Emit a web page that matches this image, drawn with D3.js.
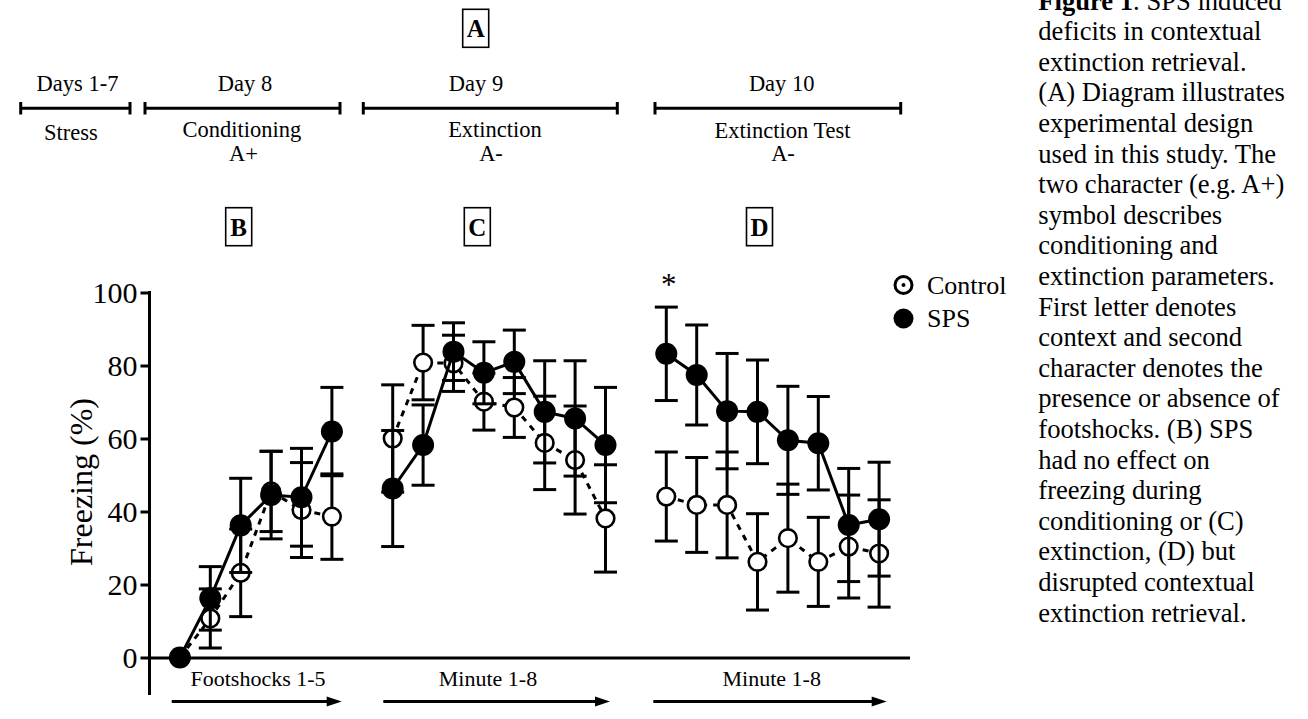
<!DOCTYPE html>
<html><head><meta charset="utf-8">
<script src="https://cdn.jsdelivr.net/npm/d3@7"></script>
<style>
body{margin:0;background:#fff}
svg{display:block}
text{font-family:"Liberation Serif","Times New Roman",serif;fill:#000}
</style>
</head><body>
<svg id="chart" width="1308" height="719"></svg>
<script>
// ---------------- data ----------------
const yTicks = [0, 20, 40, 60, 80, 100];
const seriesNames = ["Control", "SPS"];

// Panel B: conditioning (baseline + footshocks 1-5)
const condTrials = ["0", "1", "2", "3", "4", "5"];
const condControl    = [0, 10.7, 23.2, 45.5, 40.4, 38.6];
const condControlSem = [0, 8.1, 12.0, 11.0, 13.0, 11.7];
const condSPS        = [0, 16.2, 36.2, 44.5, 43.9, 61.9];
const condSPSSem     = [0, 8.7, 12.9, 12.0, 13.4, 12.1];

// Panel C: extinction minutes 1-8
const extMinutes = ["1", "2", "3", "4", "5", "6", "7", "8"];
const extControl    = [60.0, 80.8, 80.6, 70.1, 68.5, 58.8, 54.1, 38.1];
const extControlSem = [14.7, 10.2, 7.7, 7.8, 8.2, 12.8, 14.8, 14.7];
const extSPS        = [46.3, 58.2, 83.8, 78.0, 81.0, 67.3, 65.5, 58.2];
const extSPSSem     = [15.9, 11.0, 7.9, 8.5, 8.7, 14.0, 15.8, 15.8];

// Panel D: extinction test minutes 1-8
const testMinutes = ["1", "2", "3", "4", "5", "6", "7", "8"];
const testControl    = [44.1, 41.8, 41.8, 26.2, 32.7, 26.2, 30.4, 28.5];
const testControlSem = [12.2, 13.0, 14.5, 13.2, 14.8, 12.2, 14.1, 14.7];
const testSPS        = [83.2, 77.4, 67.5, 67.3, 59.5, 58.7, 36.3, 37.9];
const testSPSSem     = [12.8, 13.7, 15.8, 14.2, 14.8, 12.8, 15.5, 15.6];

const panelLetters = ["B", "C", "D"];
const panelAxisLabels = ["Footshocks 1-5", "Minute 1-8", "Minute 1-8"];
const timelineDays = ["Days 1-7", "Day 8", "Day 9", "Day 10"];
const timelinePhases = ["Stress", "Conditioning", "Extinction", "Extinction Test"];
const timelineCodes = ["", "A+", "A-", "A-"];
const yLabel = "Freezing (%)";
const captionLines = [
  "SPS induced", "deficits in contextual", "extinction retrieval.",
  "(A) Diagram illustrates", "experimental design", "used in this study. The",
  "two character (e.g. A+)", "symbol describes", "conditioning and",
  "extinction parameters.", "First letter denotes", "context and second",
  "character denotes the", "presence or absence of", "footshocks. (B) SPS",
  "had no effect on", "freezing during", "conditioning or (C)",
  "extinction, (D) but", "disrupted contextual", "extinction retrieval."
];

// ---------------- layout ----------------
const svg = d3.select("#chart");
const x = d3.scaleLinear().domain([-1, 24]).range([149.5, 909.5]);
const y = d3.scaleLinear().domain([0, 100]).range([657.5, 292.5]);
const panelStart = [0, 7, 16]; // slot offsets of each panel along x

const panels = [
  {cats: condTrials, c: condControl, cs: condControlSem, s: condSPS, ss: condSPSSem},
  {cats: extMinutes, c: extControl, cs: extControlSem, s: extSPS, ss: extSPSSem},
  {cats: testMinutes, c: testControl, cs: testControlSem, s: testSPS, ss: testSPSSem}
];

function pts(p, pi, vals, sems) {
  return p.cats.map((cat, i) => ({slot: panelStart[pi] + i, v: vals[i], e: sems[i]}));
}

// ---------------- axes ----------------
const yAxis = svg.append("g").attr("transform", `translate(${x(-1)},0)`)
  .call(d3.axisLeft(y).tickValues(yTicks).tickSize(9).tickSizeOuter(0).tickPadding(3));
yAxis.select(".domain").remove();
yAxis.selectAll(".tick line").attr("stroke", "#000").attr("stroke-width", 3);
yAxis.selectAll(".tick text").style("font-size", "30px")
  .style("font-family", '"Liberation Serif","Times New Roman",serif').attr("fill", "#000");
svg.append("line").attr("x1", x(-1)).attr("x2", x(-1))
  .attr("y1", y(100) - 1.5).attr("y2", 695)
  .attr("stroke", "#000").attr("stroke-width", 3);

const xAxis = svg.append("g").attr("transform", `translate(0,${y(0)})`)
  .call(d3.axisBottom(x).tickValues([]).tickSizeOuter(0));
xAxis.select(".domain").attr("stroke", "#000").attr("stroke-width", 3);

svg.append("text").attr("transform", `translate(92,${(y(0) + y(100)) / 2 + 7}) rotate(-90)`)
  .attr("text-anchor", "middle").style("font-size", "32px").text(yLabel);

// ---------------- series ----------------
const capW = 11.5;
function drawErr(data, cls) {
  const g = svg.append("g").attr("class", cls).attr("stroke", "#000").attr("stroke-width", 3);
  data.filter(d => d.e > 0).forEach(d => {
    const cx = x(d.slot);
    g.append("line").attr("x1", cx).attr("x2", cx).attr("y1", y(d.v + d.e)).attr("y2", y(d.v - d.e));
    g.append("line").attr("x1", cx - capW).attr("x2", cx + capW).attr("y1", y(d.v + d.e)).attr("y2", y(d.v + d.e));
    g.append("line").attr("x1", cx - capW).attr("x2", cx + capW).attr("y1", y(d.v - d.e)).attr("y2", y(d.v - d.e));
  });
}
const line = d3.line().x(d => x(d.slot)).y(d => y(d.v));

const ctrlData = panels.map((p, pi) => pts(p, pi, p.c, p.cs));
const spsData = panels.map((p, pi) => pts(p, pi, p.s, p.ss));

ctrlData.forEach(d => drawErr(d, "ctrl-err"));
ctrlData.forEach(d => svg.append("path").datum(d).attr("d", line)
  .attr("fill", "none").attr("stroke", "#000").attr("stroke-width", 3).attr("stroke-dasharray", "6,6"));
ctrlData.forEach(d => svg.append("g").selectAll("circle").data(d).join("circle")
  .attr("cx", p => x(p.slot)).attr("cy", p => y(p.v)).attr("r", 8.8)
  .attr("fill", "#fff").attr("stroke", "#000").attr("stroke-width", 2.6));

spsData.forEach(d => drawErr(d, "sps-err"));
spsData.forEach(d => svg.append("path").datum(d).attr("d", line)
  .attr("fill", "none").attr("stroke", "#000").attr("stroke-width", 3));
spsData.forEach(d => svg.append("g").selectAll("circle").data(d).join("circle")
  .attr("cx", p => x(p.slot)).attr("cy", p => y(p.v)).attr("r", 11).attr("fill", "#000"));

// significance asterisk over first test minute
svg.append("text").attr("x", x(panelStart[2]) + 2.5).attr("y", 295)
  .attr("text-anchor", "middle").style("font-size", "31px").text("*");

// ---------------- legend ----------------
const leg = svg.append("g");
leg.append("circle").attr("cx", 903.5).attr("cy", 285).attr("r", 8.5)
  .attr("fill", "#fff").attr("stroke", "#000").attr("stroke-width", 3);
leg.append("circle").attr("cx", 903.5).attr("cy", 285).attr("r", 2).attr("fill", "#000");
leg.append("circle").attr("cx", 903.5).attr("cy", 318.5).attr("r", 10).attr("fill", "#000");
leg.append("text").attr("x", 927).attr("y", 293.5).style("font-size", "26px").text(seriesNames[0]);
leg.append("text").attr("x", 927).attr("y", 327).style("font-size", "26px").text(seriesNames[1]);

// ---------------- panel bottom labels & arrows ----------------
const arrowSpans = [[171.7, 341.7], [383.3, 610], [653.3, 886.7]];
const labelCenters = [258, 488, 771.7];
arrowSpans.forEach((s, i) => {
  svg.append("line").attr("x1", s[0]).attr("x2", s[1] - 12).attr("y1", 701.5).attr("y2", 701.5)
    .attr("stroke", "#000").attr("stroke-width", 3);
  svg.append("path").attr("d", `M${s[1]},701.5 L${s[1] - 15},696.5 L${s[1] - 15},706.5 Z`).attr("fill", "#000");
  svg.append("text").attr("x", labelCenters[i]).attr("y", 686).attr("text-anchor", "middle")
    .style("font-size", "22px").text(panelAxisLabels[i]);
});

// ---------------- letter boxes ----------------
const boxes = [
  {t: "A", x: 462.7, y: 9.3},
  {t: panelLetters[0], x: 225.7, y: 207.7},
  {t: panelLetters[1], x: 464.3, y: 207.7},
  {t: panelLetters[2], x: 746.5, y: 207.7}
];
boxes.forEach(b => {
  svg.append("rect").attr("x", b.x).attr("y", b.y).attr("width", 26).attr("height", 38)
    .attr("fill", "none").attr("stroke", "#000").attr("stroke-width", 1.6);
  svg.append("text").attr("x", b.x + 13).attr("y", b.y + 28).attr("text-anchor", "middle")
    .style("font-size", "25px").style("font-weight", "bold").text(b.t);
});

// ---------------- timeline ----------------
const tlSpans = [[20.7, 130], [145, 340], [363.3, 617.3], [655, 900.7]];
const tlDayX = [77.5, 245, 476, 781.7];
const tlPhaseX = [71, 242, 495, 782.5];
const tlCodeX = [0, 243.5, 491, 783];
const tlPhaseY = [140, 137, 137, 138];
tlSpans.forEach((s, i) => {
  const g = svg.append("g").attr("stroke", "#000").attr("stroke-width", 3);
  g.append("line").attr("x1", s[0]).attr("x2", s[1]).attr("y1", 108.3).attr("y2", 108.3);
  g.append("line").attr("x1", s[0]).attr("x2", s[0]).attr("y1", 102).attr("y2", 114.5);
  g.append("line").attr("x1", s[1]).attr("x2", s[1]).attr("y1", 102).attr("y2", 114.5);
  svg.append("text").attr("x", tlDayX[i]).attr("y", 90.5).attr("text-anchor", "middle")
    .style("font-size", "22.5px").text(timelineDays[i]);
  svg.append("text").attr("x", tlPhaseX[i]).attr("y", tlPhaseY[i]).attr("text-anchor", "middle")
    .style("font-size", "22.5px").text(timelinePhases[i]);
  if (timelineCodes[i]) svg.append("text").attr("x", tlCodeX[i]).attr("y", 161).attr("text-anchor", "middle")
    .style("font-size", "22.5px").text(timelineCodes[i]);
});

// ---------------- caption ----------------
const cap = svg.append("text").attr("x", 1038.3).attr("y", 9.5).style("font-size", "26.6px");
captionLines.forEach((ln, i) => {
  const t = cap.append("tspan").attr("x", 1038.3).attr("y", 9.5 + i * 30.6);
  if (i === 0) {
    t.append("tspan").style("font-weight", "bold").text("Figure 1");
    t.append("tspan").text(". " + ln);
  } else t.text(ln);
});
</script>
</body></html>
